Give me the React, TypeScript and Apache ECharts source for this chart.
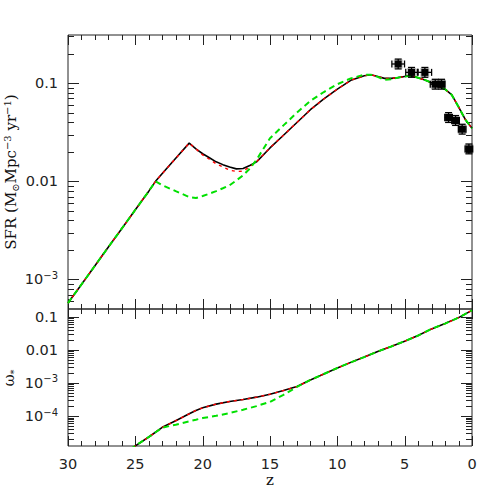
import React, { useEffect, useRef } from 'react';
import * as echarts from 'echarts';

// ---------- data ----------
const zTop = [30, 29, 28, 27, 26, 25, 24, 23.5, 23, 22, 21, 20.5, 20, 19.5, 19, 18.5, 18, 17.5, 17, 16.5, 16, 15, 14, 13, 12, 11, 10, 9, 8, 7.5, 7, 6.5, 6, 5.5, 5, 4.5, 4, 3.5, 3, 2.5, 2, 1.5, 1, 0.5, 0];
const sfrBlack = [5.75e-4, 8.9e-4, 1.38e-3, 2.14e-3, 3.31e-3, 5.13e-3, 7.94e-3, 0.01, 0.012, 0.0172, 0.0245, 0.0214, 0.0191, 0.0174, 0.0158, 0.0148, 0.014, 0.0134, 0.0135, 0.0145, 0.0158, 0.0219, 0.0295, 0.0398, 0.0537, 0.0692, 0.0871, 0.107, 0.119, 0.122, 0.117, 0.112, 0.112, 0.114, 0.117, 0.119, 0.1135, 0.108, 0.101, 0.0933, 0.087, 0.0759, 0.0575, 0.0427, 0.0347];
const sfrRed = [5.75e-4, 8.9e-4, 1.38e-3, 2.14e-3, 3.31e-3, 5.13e-3, 7.94e-3, 0.01, 0.012, 0.0172, 0.0245, 0.0214, 0.0186, 0.0168, 0.0151, 0.014, 0.013, 0.0126, 0.0127, 0.0141, 0.0158, 0.0219, 0.0295, 0.0398, 0.0537, 0.0692, 0.0871, 0.107, 0.119, 0.122, 0.117, 0.112, 0.112, 0.114, 0.117, 0.119, 0.1135, 0.108, 0.101, 0.0933, 0.087, 0.0759, 0.0575, 0.0427, 0.0347];
const sfrGreen = [5.75e-4, 8.9e-4, 1.38e-3, 2.14e-3, 3.31e-3, 5.13e-3, 7.94e-3, 0.01, 0.00912, 0.00794, 0.00692, 0.00676, 0.00708, 0.0075, 0.00794, 0.0085, 0.00912, 0.0102, 0.0115, 0.0135, 0.0166, 0.0275, 0.0372, 0.0501, 0.0661, 0.0813, 0.0977, 0.112, 0.122, 0.122, 0.116, 0.108, 0.11, 0.114, 0.117, 0.119, 0.1135, 0.108, 0.101, 0.0933, 0.087, 0.0759, 0.0575, 0.0427, 0.0347];

const obsZ = [5.48, 4.49, 3.5, 2.73, 2.26, 1.74, 1.22, 0.73, 0.23];
const obsSfr = [0.157, 0.129, 0.129, 0.0977, 0.0977, 0.0447, 0.0417, 0.034, 0.0214];
const obsZErr = [0.47, 0.43, 0.5, 0.37, 0.25, 0.28, 0.28, 0.28, 0.28];
const obsDexErr = [0.05, 0.05, 0.05, 0.05, 0.05, 0.05, 0.05, 0.05, 0.05];

const zBot = [26, 25, 24, 23, 22, 21, 20.5, 20, 19, 18, 17, 16, 15, 14, 13, 12, 11, 10, 9, 8, 7, 6, 5, 4, 3, 2, 1, 0];
const omegaBlack = [6.5e-6, 1.26e-5, 2.34e-5, 4.57e-5, 7.24e-5, 1.17e-4, 1.48e-4, 1.78e-4, 2.29e-4, 2.75e-4, 3.16e-4, 3.72e-4, 4.57e-4, 5.89e-4, 7.76e-4, 1.23e-3, 1.86e-3, 2.82e-3, 4.17e-3, 6.03e-3, 8.91e-3, 0.0126, 0.0182, 0.0269, 0.0427, 0.0617, 0.0933, 0.155];
const omegaRed = omegaBlack.slice();
const omegaGreen = [6.5e-6, 1.26e-5, 2.34e-5, 4.47e-5, 5.5e-5, 6.92e-5, 7.76e-5, 8.71e-5, 1.02e-4, 1.23e-4, 1.55e-4, 2.0e-4, 2.69e-4, 4.37e-4, 7.59e-4, 1.23e-3, 1.86e-3, 2.82e-3, 4.17e-3, 6.03e-3, 8.91e-3, 0.0126, 0.0182, 0.0269, 0.0427, 0.0617, 0.0933, 0.155];

const topDecades = [1e-3, 1e-2, 1e-1];
const botDecades = [1e-4, 1e-3, 1e-2, 1e-1];
const topRange = [5e-4, 0.31];
const botRange = [1.25e-5, 0.17];

// ---------- helpers ----------
const minorValues: number[] = [];
for (let e = -6; e <= 0; e++) {
  for (let m = 2; m <= 9; m++) minorValues.push(m * Math.pow(10, e));
}
const zTickValues: number[] = [];
for (let z = 0; z <= 30; z++) zTickValues.push(z);

const AX = '#222';
const TICKFONT = 'DejaVu Sans';
const SERIF = 'DejaVu Serif';

const decadeLabel = (v: number) => {
  const e = Math.round(Math.log10(v));
  if (e === -1) return '0.1';
  if (e === -2) return '0.01';
  return '10{sup|\u2212' + -e + '}';
};

const labelRich = {
  sup: { fontSize: 10, fontFamily: TICKFONT, color: AX, verticalAlign: 'top', lineHeight: 10 },
};

function xAxisDef(gridIndex: number, showLabel: boolean) {
  return {
    type: 'value',
    gridIndex,
    position: 'bottom',
    min: 0,
    max: 30,
    interval: 5,
    inverse: true,
    axisLine: { show: false },
    axisTick: { show: false },
    minorTick: { show: false },
    splitLine: { show: false },
    minorSplitLine: { show: false },
    axisLabel: { show: showLabel, margin: 10, fontFamily: TICKFONT, fontSize: 14.5, color: AX },
  };
}

function yAxisDef(gridIndex: number, range: number[], decades: number[]) {
  return {
    type: 'log',
    logBase: 10,
    gridIndex,
    position: 'left',
    min: range[0],
    max: range[1],
    axisLine: { show: false },
    axisTick: { show: false },
    axisLabel: {
      show: true,
      customValues: decades,
      formatter: decadeLabel,
      margin: 10,
      fontFamily: TICKFONT,
      fontSize: 14.5,
      lineHeight: 18,
      color: AX,
      rich: labelRich,
    },
    splitLine: { show: false },
  };
}

function lineSeries(xi: number, yi: number, zs: number[], vs: number[], color: string, width: number, dash: any, z: number) {
  return {
    type: 'line',
    xAxisIndex: xi,
    yAxisIndex: yi,
    data: zs.map((zz, i) => [zz, vs[i]]),
    showSymbol: false,
    symbol: 'none',
    clip: true,
    z,
    lineStyle: { color, width, type: dash },
  };
}

const tickStyle = { stroke: AX, lineWidth: 1 };
const snap = (v: number) => Math.round(v) + 0.5;

function xTickSeries(gi: number, refY: number) {
  return {
    type: 'custom',
    xAxisIndex: gi,
    yAxisIndex: gi,
    silent: true,
    z: 1,
    data: zTickValues.map((z) => [z, refY, z % 5 === 0 ? 1 : 0]),
    encode: { x: 0, y: 1 },
    renderItem: (params: any, api: any) => {
      const cs = params.coordSys;
      const x = snap(api.coord([api.value(0), api.value(1)])[0]);
      const len = api.value(2) ? 10 : 5;
      return {
        type: 'group',
        children: [
          { type: 'line', shape: { x1: x, y1: cs.y, x2: x, y2: cs.y + len }, style: tickStyle },
          { type: 'line', shape: { x1: x, y1: cs.y + cs.height, x2: x, y2: cs.y + cs.height - len }, style: tickStyle },
        ],
      };
    },
  };
}

function yTickSeries(gi: number, range: number[], decades: number[]) {
  const vals = decades.map((v) => [15, v, 1]).concat(
    minorValues.filter((v) => v > range[0] && v < range[1]).map((v) => [15, v, 0])
  );
  return {
    type: 'custom',
    xAxisIndex: gi,
    yAxisIndex: gi,
    silent: true,
    z: 1,
    data: vals,
    encode: { x: 0, y: 1 },
    renderItem: (params: any, api: any) => {
      const cs = params.coordSys;
      const y = snap(api.coord([api.value(0), api.value(1)])[1]);
      const len = api.value(2) ? 11 : 6;
      return {
        type: 'group',
        children: [
          { type: 'line', shape: { x1: cs.x, y1: y, x2: cs.x + len, y2: y }, style: tickStyle },
          { type: 'line', shape: { x1: cs.x + cs.width, y1: y, x2: cs.x + cs.width - len, y2: y }, style: tickStyle },
        ],
      };
    },
  };
}

export default function App() {
  const ref = useRef<HTMLDivElement>(null);
  useEffect(() => {
    if (!ref.current) return;
    const chart = echarts.init(ref.current, undefined, { renderer: 'svg' });
    const option: any = {
      animation: false,
      backgroundColor: '#fff',
      grid: [
        { left: 68, top: 35, width: 404, height: 274, show: true, borderColor: AX, borderWidth: 1, backgroundColor: 'transparent' },
        { left: 68, top: 309, width: 404, height: 137, show: true, borderColor: AX, borderWidth: 1, backgroundColor: 'transparent' },
      ],
      xAxis: [xAxisDef(0, false), xAxisDef(1, true)],
      yAxis: [yAxisDef(0, topRange, topDecades), yAxisDef(1, botRange, botDecades)],
      series: [
        xTickSeries(0, 0.01),
        xTickSeries(1, 0.001),
        yTickSeries(0, topRange, topDecades),
        yTickSeries(1, botRange, botDecades),
        lineSeries(0, 0, zTop, sfrBlack, '#000', 1.6, 'solid', 2),
        lineSeries(0, 0, zTop, sfrRed, '#ff0000', 1.4, [3, 4], 3),
        lineSeries(0, 0, zTop, sfrGreen, '#00e000', 2, [6, 4], 4),
        lineSeries(1, 1, zBot, omegaBlack, '#000', 1.6, 'solid', 2),
        lineSeries(1, 1, zBot, omegaRed, '#ff0000', 1.4, [3, 4], 3),
        lineSeries(1, 1, zBot, omegaGreen, '#00e000', 2, [6, 4], 4),
        {
          type: 'custom',
          xAxisIndex: 0,
          yAxisIndex: 0,
          z: 5,
          data: obsZ.map((zz, i) => [zz, obsSfr[i], obsZErr[i], obsDexErr[i]]),
          encode: { x: 0, y: 1 },
          renderItem: (params: any, api: any) => {
            const zz = api.value(0);
            const v = api.value(1);
            const ez = api.value(2);
            const ed = api.value(3);
            const c = api.coord([zz, v]);
            const l = api.coord([zz + ez, v]);
            const r = api.coord([zz - ez, v]);
            const t = api.coord([zz, v * Math.pow(10, ed)]);
            const b = api.coord([zz, v / Math.pow(10, ed)]);
            const cap = 3.5;
            const st = { stroke: '#000', lineWidth: 1.3 };
            return {
              type: 'group',
              children: [
                { type: 'line', shape: { x1: l[0], y1: c[1], x2: r[0], y2: c[1] }, style: st },
                { type: 'line', shape: { x1: l[0], y1: c[1] - cap, x2: l[0], y2: c[1] + cap }, style: st },
                { type: 'line', shape: { x1: r[0], y1: c[1] - cap, x2: r[0], y2: c[1] + cap }, style: st },
                { type: 'line', shape: { x1: c[0], y1: t[1], x2: c[0], y2: b[1] }, style: st },
                { type: 'line', shape: { x1: c[0] - cap, y1: t[1], x2: c[0] + cap, y2: t[1] }, style: st },
                { type: 'line', shape: { x1: c[0] - cap, y1: b[1], x2: c[0] + cap, y2: b[1] }, style: st },
                { type: 'rect', shape: { x: c[0] - 4.5, y: c[1] - 4.5, width: 9, height: 9 }, style: { fill: 'rgba(0,0,0,0.25)' } },
                { type: 'rect', shape: { x: c[0] - 3.5, y: c[1] - 3.5, width: 7, height: 7 }, style: { fill: '#000' } },
              ],
            };
          },
        },
      ],
      graphic: [
        {
          type: 'text',
          x: 11,
          y: 172,
          rotation: Math.PI / 2,
          style: {
            text: 'SFR (M{sub|\u2299}Mpc{sup|\u22123} yr{sup|\u22121})',
            fontFamily: SERIF,
            fontSize: 15,
            fill: '#111',
            align: 'center',
            verticalAlign: 'middle',
            lineHeight: 18,
            rich: {
              sup: { fontFamily: SERIF, fontSize: 10, verticalAlign: 'top', lineHeight: 10, fill: '#111' },
              sub: { fontFamily: SERIF, fontSize: 10, verticalAlign: 'bottom', lineHeight: 10, fill: '#111' },
            },
          },
        },
        {
          type: 'text',
          x: 9,
          y: 378,
          rotation: Math.PI / 2,
          style: {
            text: '\u03c9{sub|*}',
            fontFamily: SERIF,
            fontSize: 15,
            fill: '#111',
            align: 'center',
            verticalAlign: 'middle',
            lineHeight: 18,
            rich: {
              sub: { fontFamily: SERIF, fontSize: 10, verticalAlign: 'bottom', lineHeight: 10, fill: '#111' },
            },
          },
        },
        {
          type: 'text',
          x: 270,
          y: 480,
          style: {
            text: 'z',
            fontFamily: SERIF,
            fontSize: 15,
            fill: '#111',
            align: 'center',
            verticalAlign: 'middle',
          },
        },
      ],
    };
    chart.setOption(option);
    return () => chart.dispose();
  }, []);
  return <div ref={ref} style={{ position: 'absolute', left: 0, top: 0, width: 491, height: 491 }} />;
}
